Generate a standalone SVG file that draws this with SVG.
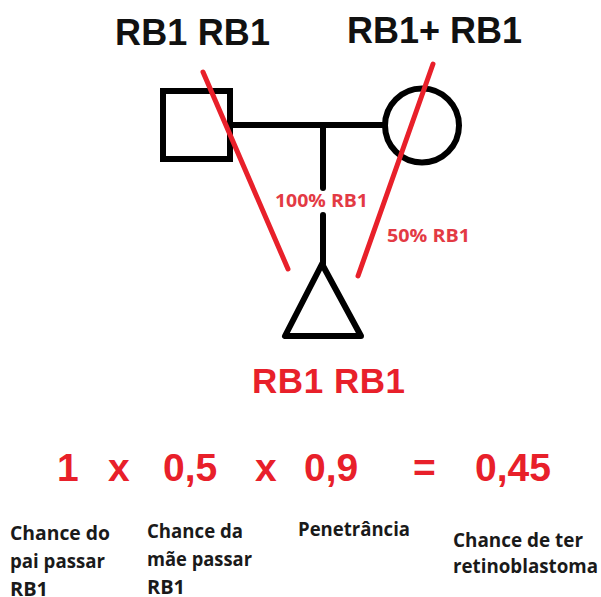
<svg xmlns="http://www.w3.org/2000/svg" width="601" height="597" viewBox="0 0 601 597">
<style>
.blk{fill:none;stroke:#000;stroke-width:6}
.red{fill:none;stroke:#e8202a;stroke-width:5;stroke-linecap:round}
text{font-family:"Liberation Sans",Arial,sans-serif;font-weight:bold}
.big{font-size:36px;fill:#111}
.bigr{font-size:35px;fill:#e8202a}
.eq{font-size:39px;fill:#e8202a}
.lab{font-family:"Open Sans","Liberation Sans",sans-serif;font-size:18px;fill:#e33a44}
.cap{font-family:"Open Sans","Liberation Sans",sans-serif;font-size:19.5px;fill:#1a1a1a}
</style>
<rect width="601" height="597" fill="#fff"/>
<g id="father">
<rect class="blk" x="163" y="91" width="67" height="68"/>
<text class="big" x="115" y="45" textLength="155">RB1 RB1</text>
</g>
<g id="mother">
<circle class="blk" cx="422" cy="125.5" r="37"/>
<text class="big" x="347" y="43" textLength="175">RB1+ RB1</text>
</g>
<g id="child">
<path class="blk" d="M322 264 L285 336 L361 336 Z" stroke-linejoin="round"/>
<text class="bigr" x="252" y="393" textLength="153">RB1 RB1</text>
</g>
<g id="connectors">
<line class="blk" x1="230" y1="125" x2="386" y2="125"/>
<line class="blk" x1="323" y1="125" x2="323" y2="188" stroke-linecap="round"/>
<line class="blk" x1="323" y1="215" x2="323" y2="264" stroke-linecap="round"/>
<line class="red" x1="203" y1="72" x2="288" y2="269"/>
<line class="red" x1="433" y1="64" x2="358" y2="276"/>
<text class="lab" x="275" y="207" textLength="93" lengthAdjust="spacingAndGlyphs">100% RB1</text>
<text class="lab" x="387" y="242" textLength="83" lengthAdjust="spacingAndGlyphs">50% RB1</text>
</g>
<g id="equation">
<text class="eq" x="57" y="481">1</text>
<text class="eq" x="108" y="481">x</text>
<text class="eq" x="163" y="481">0,5</text>
<text class="eq" x="255" y="481">x</text>
<text class="eq" x="304" y="481">0,9</text>
<text class="eq" x="413" y="481">=</text>
<text class="eq" x="475" y="481">0,45</text>
</g>
<g id="captions">
<text class="cap" x="10" y="540" textLength="100" lengthAdjust="spacingAndGlyphs">Chance do</text>
<text class="cap" x="10" y="568" textLength="95" lengthAdjust="spacingAndGlyphs">pai passar</text>
<text class="cap" x="10" y="596" textLength="38" lengthAdjust="spacingAndGlyphs">RB1</text>
<text class="cap" x="147" y="538" textLength="96" lengthAdjust="spacingAndGlyphs">Chance da</text>
<text class="cap" x="147" y="566" textLength="105" lengthAdjust="spacingAndGlyphs">mãe passar</text>
<text class="cap" x="147" y="594" textLength="38" lengthAdjust="spacingAndGlyphs">RB1</text>
<text class="cap" x="298" y="536" textLength="112" lengthAdjust="spacingAndGlyphs">Penetrância</text>
<text class="cap" x="453" y="547" textLength="130" lengthAdjust="spacingAndGlyphs">Chance de ter</text>
<text class="cap" x="453" y="573" textLength="145" lengthAdjust="spacingAndGlyphs">retinoblastoma</text>
</g>
</svg>
